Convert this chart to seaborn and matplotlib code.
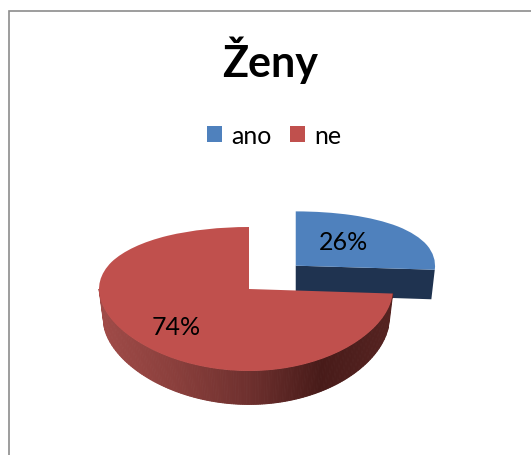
import numpy as np
import matplotlib
matplotlib.use('Agg')
import matplotlib.pyplot as plt
from matplotlib.colors import LinearSegmentedColormap
from matplotlib.patches import Rectangle
import seaborn as sns

title = 'Ženy'
labels = ['ano', 'ne']
shares = [26, 74]
colors = ['#4F81BD', '#C0504D']
blue_side = '#1F3350'
red_side = ['#A04B48', '#8A3F3C', '#6E302E', '#481B19', '#552321']

sns.set_theme(style='white')
plt.rcParams['font.family'] = ['Lato', 'DejaVu Sans']

W, H = 531, 456
APEX = (249, 290)  # pixel position of the pie centre
DEPTH = 0.375
BLUE_DEPTH = 0.42
SHRINK = 0.975  # lower rim is a bit narrower, perspective
BLUE_R = 0.98


# tilt of the pie: the back half is squeezed more than the front half
def tilt(y):
    return 72 * np.asarray(y, dtype=float) - 10 * np.asarray(y, dtype=float) ** 2


def untilt(v):
    v = np.minimum(np.asarray(v, dtype=float), 129.0)
    return (72 - np.sqrt(72 ** 2 - 40 * v)) / 20


# same idea across, left half slightly wider
def lean(x):
    return 147 * np.asarray(x, dtype=float) - 3 * np.asarray(x, dtype=float) ** 2


def unlean(v):
    v = np.minimum(np.asarray(v, dtype=float), 1800.0)
    return (147 - np.sqrt(147 ** 2 - 12 * v)) / 6


fig = plt.figure(figsize=(W / 100, H / 100), dpi=100, facecolor='white')

# axes box in pixels, the pie scales are mapped into it
top_px, bottom_px = 190, 430
ax = fig.add_axes([0, 1 - bottom_px / H, 1, (bottom_px - top_px) / H])
ax.patch.set_alpha(0)

wedges, texts, autotexts = ax.pie(shares, explode=[0.46, 0], colors=colors, startangle=90,
                                  counterclock=False, autopct='%d%%', radius=1,
                                  wedgeprops={'edgecolor': 'none', 'linewidth': 0},
                                  textprops={'fontsize': 18, 'color': 'black'})
ax.set_aspect('auto')
ax.set_xscale('function', functions=(lean, unlean))
ax.set_yscale('function', functions=(tilt, untilt))
ax.set_xlim(unlean(-APEX[0]), unlean(W - APEX[0]))
ax.set_ylim(untilt(APEX[1] - bottom_px), untilt(APEX[1] - top_px))
ax.axis('off')

bx, by = 0.32, 0.34  # where the blue slice was pulled out to
wedges[0].set_center((bx, by))
wedges[0].set_radius(BLUE_R)
wedges[0].set_zorder(2)
wedges[1].set_zorder(4)
autotexts[0].set_position((0.65, 0.74))
autotexts[1].set_position((-0.49, -0.49))
for t in autotexts:
    t.set_zorder(6)
    t.set_ha('center')
    t.set_va('center')

# blue side face under the cut edge
end = np.deg2rad(90 - shares[0] * 3.6)
ex, ey = np.cos(end), np.sin(end)
ax.fill([bx, bx + BLUE_R * ex, bx + BLUE_R * SHRINK * ex, bx],
        [by, by + BLUE_R * ey, by + BLUE_R * SHRINK * ey - BLUE_DEPTH, by - BLUE_DEPTH],
        color=blue_side, lw=0, zorder=1)

# red rim as thin strips, shaded from left to right
cmap = LinearSegmentedColormap.from_list('rim', red_side)
xs = np.linspace(-1, ex, 160)
for x0, x1 in zip(xs[:-1], xs[1:]):
    t0, t1 = -np.sqrt(1 - x0 ** 2), -np.sqrt(max(1 - x1 ** 2, 0))
    c = cmap((x0 + 1) / (ex + 1))
    ax.fill([x0, x1, x1 * SHRINK, x0 * SHRINK],
            [t0, t1, t1 * SHRINK - DEPTH, t0 * SHRINK - DEPTH],
            color=c, lw=0.7, zorder=3)

fig.text(270 / W, 1 - 60 / H, title, fontsize=31, fontweight='bold', ha='center', va='center', color='black')

leg = fig.legend(wedges, labels, loc='center', bbox_to_anchor=(274 / W, 1 - 136 / H), ncol=2,
                 frameon=False, fontsize=18, handlelength=0.62, handleheight=0.62,
                 handletextpad=0.35, columnspacing=0.75, labelcolor='black')

# chart border, only left and top fall inside the picture
fig.add_artist(Rectangle((8.5 / W, -0.1), 1.2, 1 - 11.5 / H + 0.1, transform=fig.transFigure,
                         fill=False, edgecolor='#8C8C8C', lw=1.2))

fig.savefig('out.png', dpi=100)
